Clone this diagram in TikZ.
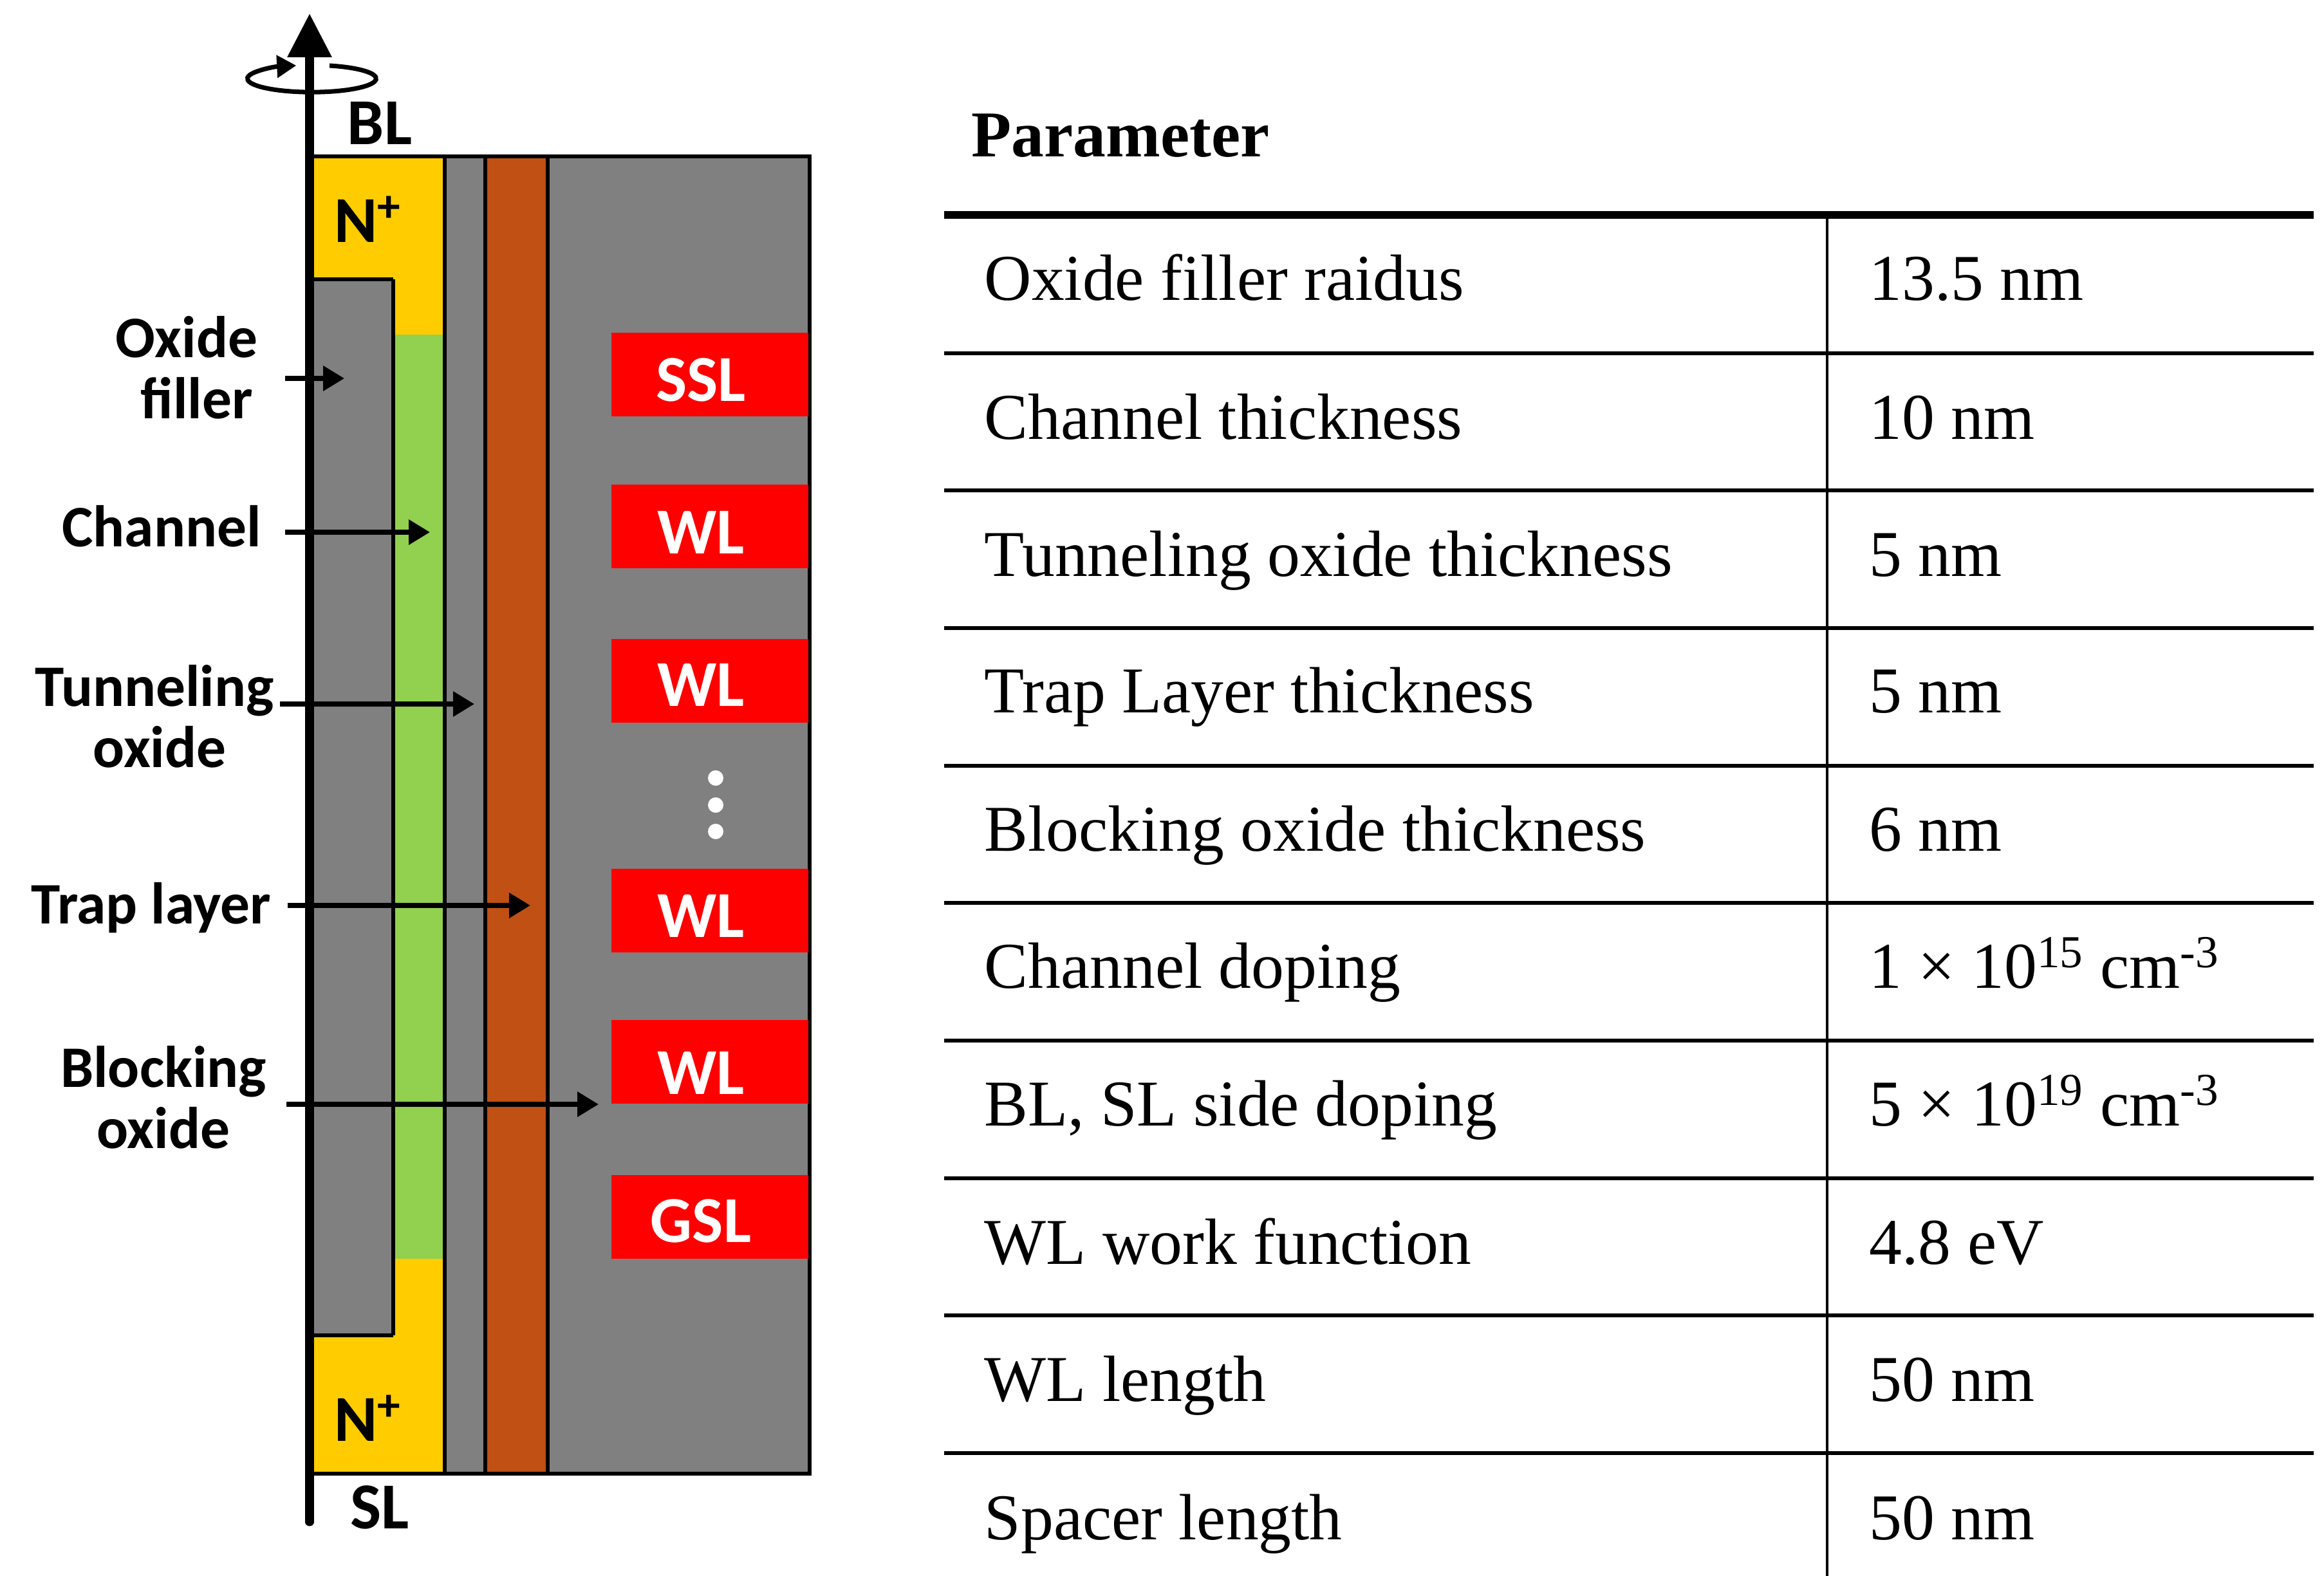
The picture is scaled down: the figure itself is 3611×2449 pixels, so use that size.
\documentclass[tikz,border=0pt]{standalone}
\usepackage{fontspec}
\setmainfont{Liberation Serif}
\newfontfamily\labelfont{Carlito}
\usetikzlibrary{arrows.meta}
\definecolor{oxidegrey}{HTML}{808080}
\definecolor{dopeyellow}{HTML}{FFCC00}
\definecolor{channelgreen}{HTML}{92D050}
\definecolor{trapbrown}{HTML}{C05014}
\tikzset{
	layerline/.style={line width=1.5pt,black},
	pointer/.style={line width=2pt,-{Triangle[length=33*0.01cm,width=38*0.01cm]}},
	devlabel/.style={font=\labelfont\fontsize{26}{27}\selectfont\bfseries,align=center,inner sep=0pt},
	capslabel/.style={devlabel,font=\labelfont\fontsize{29}{30}\selectfont\bfseries},
	gatelabel/.style={capslabel,text=white},
	rowtext/.style={font=\fontsize{28.9}{33}\selectfont,anchor=base west,inner sep=0pt},
	rule/.style={line width=1.5pt}
}
\begin{document}
\begin{tikzpicture}[x=0.01cm,y=-0.01cm]
	\useasboundingbox(0,0)rectangle(3611,2449);
	% device cross-section
	\fill[oxidegrey](481,243)rectangle(1258,2290);
	\fill[dopeyellow](481,243)rectangle(691,2290);
	\fill[channelgreen](611,520)rectangle(691,1956);
	\fill[oxidegrey](481,434)rectangle(611,2075);
	\fill[trapbrown](754,243)rectangle(851,2290);
	\draw[layerline](611,2075)--(611,434);
	\draw[layerline](481,434)--(611,434);
	\draw[layerline](481,2075)--(611,2075);
	\foreach \layerx in {691,754,851}{
		\draw[layerline](\layerx,243)--(\layerx,2290);
	}
	\draw[layerline](481,243)rectangle(1258,2290);
	% gates
	\foreach \gatetop/\gatey/\gatetext/\gatename in {517/590/SSL/ssl,753/827/WL/wla,993/1064/WL/wlb,1350/1423/WL/wlc,1585/1667/WL/wld,1826/1897/GSL/gsl}{
		\fill[red](950,\gatetop)rectangle(1256,\gatetop+130);
		\node[gatelabel](\gatename)at(1089,\gatey){\gatetext};
	}
	\foreach \doty in {1209,1251,1292}{
		\fill[white](1112,\doty)circle(12);
	}
	% axis
	\coordinate(axisbottom)at(481,2365);
	\coordinate(axistop)at(481,21);
	\draw[line width=3.7pt,line cap=round,-{Triangle[length=68*0.01cm,width=66*0.01cm]}](axisbottom)--(axistop);
	\draw[line width=2pt,-{Triangle[length=30*0.01cm,width=34*0.01cm]}](512,102)arc[start angle=-74,end angle=256,x radius=100,y radius=21];
	\node[capslabel](bl)at(590,191){BL};
	\node[capslabel](sl)at(590,2342){SL};
	\node[capslabel](nplustop)at(572,341){N\textsuperscript{+}};
	\node[capslabel](nplusbottom)at(572,2204){N\textsuperscript{+}};
	% callouts
	\node[devlabel](filler)at(290,571){Oxide\\\hspace*{9pt}filler};
	\node[devlabel](channel)at(251,818){Channel};
	\node[devlabel](tunneling)at(240,1113){Tunneling\\\hspace*{4.6pt}oxide};
	\node[devlabel](trap)at(235,1411){Trap layer};
	\node[devlabel](blocking)at(254,1705){Blocking\\oxide};
	\foreach \callout/\tipx/\tipy/\gap in {filler/535/588/42,channel/668/827/37,tunneling/737/1094/9,trap/824/1407/25,blocking/930/1716/30}{
		\coordinate(\callout tip)at(\tipx,\tipy);
		\draw[pointer,shorten <=\gap*0.01cm](\callout.east |- \callout tip)--(\callout tip);
	}
	% table
	\node[rowtext,font=\fontsize{28.9}{33}\selectfont\bfseries](head)at(1509,244){Parameter};
	\draw[line width=3.4pt](1467,334)--(3595,334);
	\draw[line width=1.1pt](2839,334)--(2839,2449);
	\foreach \rowy/\rowname/\rowvalue [count=\rowno] in {
		467/Oxide filler raidus/13.5 nm,
		683/Channel thickness/10 nm,
		896/Tunneling oxide thickness/5 nm,
		1107/Trap Layer thickness/5 nm,
		1322/Blocking oxide thickness/6 nm,
		1535/Channel doping/1 × 10\textsuperscript{15} cm\textsuperscript{-3},
		1749/{BL, SL side doping}/5 × 10\textsuperscript{19} cm\textsuperscript{-3},
		1964/WL work function/4.8 eV,
		2177/WL length/50 nm,
		2392/Spacer length/50 nm}{
		\node[rowtext](name\rowno)at(1529,\rowy){\rowname};
		\node[rowtext](value\rowno)at(2904,\rowy){\rowvalue};
	}
	\foreach \ruley in {549,762,976,1190,1403,1617,1831,2044,2258}{
		\draw[rule](1467,\ruley)--(3595,\ruley);
	}
\end{tikzpicture}
\end{document}
